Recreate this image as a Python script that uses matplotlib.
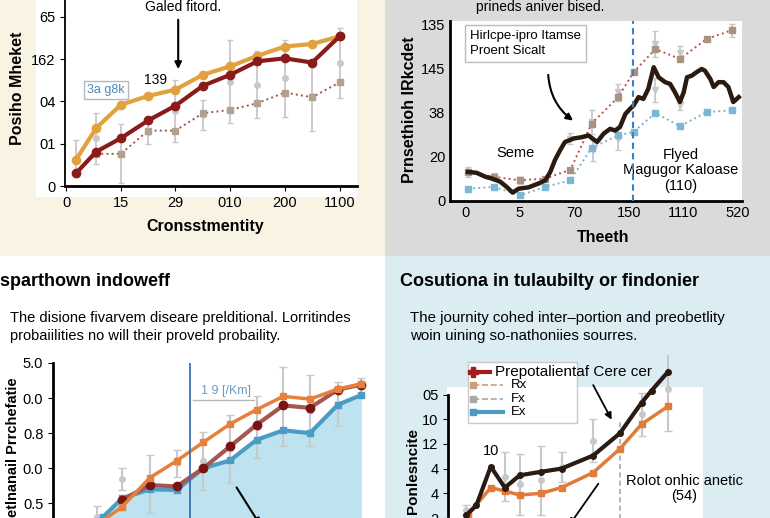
import numpy as np
import matplotlib
matplotlib.use("Agg")
import matplotlib.pyplot as plt
from matplotlib.patches import Rectangle
from matplotlib.lines import Line2D

plt.rcParams['font.family'] = ['Liberation Sans', 'DejaVu Sans']

W, H = 770, 518

# --- top left panel data
tl_x = [0.18, 0.55, 1.0, 1.5, 2.0, 2.5, 3.0, 3.5, 4.0, 4.5, 5.0]
tl_orange = [0.62, 1.37, 1.92, 2.13, 2.28, 2.63, 2.83, 3.08, 3.30, 3.36, 3.54]
tl_red = [0.30, 0.81, 1.13, 1.55, 1.90, 2.37, 2.63, 2.95, 3.02, 2.92, 3.54]
tl_dot_x = [0.55, 1.0, 1.5, 2.0, 2.5, 3.0, 3.5, 4.0, 4.5, 5.0]
tl_dot = [0.76, 0.76, 1.31, 1.31, 1.72, 1.80, 1.96, 2.21, 2.10, 2.45]
tl_err_c = [0.65, 1.13, 0.77, 1.28, 1.78, 1.68, 2.47, 2.40, 2.55, 2.14, 2.91]
tl_err_h = [0.43, 0.60, 0.70, 0.28, 0.73, 0.36, 0.99, 0.80, 0.91, 0.85, 0.83]
tl_xticks = ['0', '15', '29', '010', '200', '1100']
tl_yticks = ['0', '01', '04', '162', '65']

# --- top right panel data
tr_black_x = [0.05, 0.21, 0.37, 0.49, 0.64, 0.76, 0.87, 0.98, 1.16, 1.35, 1.47, 1.56,
              1.65, 1.74, 1.83, 1.99, 2.14, 2.26, 2.42, 2.54, 2.66, 2.75, 2.84, 2.94,
              3.03, 3.09, 3.18, 3.27, 3.36, 3.46, 3.55, 3.67, 3.76, 3.85, 3.94, 4.01,
              4.07, 4.16, 4.25, 4.34, 4.40, 4.50, 4.56, 4.65, 4.74, 4.83, 4.92, 5.02]
tr_black = [0.64, 0.62, 0.53, 0.49, 0.42, 0.30, 0.17, 0.26, 0.29, 0.38, 0.45, 0.64,
            0.92, 1.13, 1.32, 1.40, 1.43, 1.47, 1.32, 1.51, 1.62, 1.58, 1.66, 1.96,
            2.08, 2.15, 2.34, 2.30, 2.53, 3.02, 2.79, 2.68, 2.64, 2.45, 2.23, 2.45,
            2.79, 2.83, 2.91, 2.98, 2.94, 2.75, 2.57, 2.68, 2.68, 2.57, 2.23, 2.34]
tr_x = [0.05, 0.52, 1.01, 1.47, 1.93, 2.32, 2.81, 3.09, 3.49, 3.94, 4.43, 4.89]
tr_red = [0.64, 0.53, 0.45, 0.49, 0.69, 1.74, 2.34, 2.91, 3.43, 3.21, 3.66, 3.86]
tr_blue = [0.26, 0.30, 0.11, 0.30, 0.45, 1.19, 1.47, 1.55, 1.98, 1.68, 2.00, 2.04]
tr_err_x = [0.05, 0.52, 1.01, 1.93, 2.32, 2.35, 2.81, 2.81, 3.49, 3.49, 3.94, 3.94, 4.89]
tr_err_c = [0.64, 0.53, 0.45, 1.40, 1.77, 1.13, 2.45, 1.40, 3.55, 2.50, 3.34, 2.15, 3.85]
tr_err_h = [0.11, 0.08, 0.08, 0.12, 0.27, 0.23, 0.19, 0.26, 0.30, 0.27, 0.17, 0.11, 0.15]
tr_xticks = ['0', '5', '70', '150', '1110', '520']
tr_yticks = ['0', '20', '38', '145', '135']

# --- bottom left panel data
bl_orange_x = [0.1, 0.95, 2, 3, 4, 5, 6, 7, 8, 9.05, 9.9]
bl_orange = [-0.57, -0.10, 0.73, 1.21, 1.74, 2.26, 2.67, 3.05, 2.97, 3.26, 3.40]
bl_red_x = [0.95, 2, 3, 4, 5, 6, 7, 8, 9.05, 9.9]
bl_red = [0.10, 0.52, 0.48, 1.00, 1.62, 2.24, 2.79, 2.72, 3.24, 3.38]
bl_blue_x = [0.25, 0.95, 2, 3, 4, 5, 6, 7, 8, 9.05, 9.9]
bl_blue = [-0.38, 0.14, 0.40, 0.38, 1.00, 1.22, 1.81, 2.08, 2.00, 2.81, 3.08]
bl_err_x = [0.0, 0.95, 2, 3, 4, 5, 6, 7, 8, 9.05, 9.9]
bl_err_c = [-0.38, 0.69, 0.55, 1.14, 1.21, 1.55, 2.17, 2.76, 2.64, 2.83, 3.31]
bl_err_h = [0.29, 0.31, 0.84, 0.38, 0.83, 0.98, 0.88, 1.14, 1.02, 0.64, 0.26]
bl_yticks = ['0.5', '0.0', '0.8', '0.0', '5.0']

# --- bottom right panel data
br_black_x = [0.85, 1.31, 1.97, 2.62, 3.31, 4.28, 5.23, 6.69, 7.92, 8.92, 9.38, 10.15]
br_black = [0.12, 0.52, 2.08, 1.23, 1.73, 1.87, 2.00, 2.53, 3.43, 4.67, 5.16, 5.93]
br_orange_x = [0.92, 1.97, 2.62, 3.31, 4.28, 5.23, 6.69, 7.92, 8.92, 10.15]
br_orange = [0.13, 1.23, 1.09, 0.93, 1.00, 1.23, 1.84, 2.80, 3.80, 4.53]
br_err_x = [0.85, 2.62, 3.31, 4.28, 5.23, 6.69, 8.92, 10.15]
br_err_c = [0.33, 1.67, 1.37, 1.53, 2.07, 3.13, 4.20, 5.23]
br_err_h = [0.20, 1.00, 1.23, 1.40, 0.60, 0.87, 0.87, 1.70]
br_yticks = ['2', '4', '4', '12', '10', '05']
br_legend = ['Prepotalientaf Cere cer', 'Rx', 'Fx', 'Ex']

ERR = '#c8c8c8'


def add_ax(l, t, r, b):
    return fig.add_axes([l / W, 1 - b / H, (r - l) / W, (b - t) / H])


def rect(l, t, r, b, color, z=-2):
    fig.add_artist(Rectangle((l / W, 1 - b / H), (r - l) / W, (b - t) / H,
                             transform=fig.transFigure, facecolor=color,
                             edgecolor='none', zorder=z))


def ftext(x, y, s, **kw):
    fig.text(x / W, 1 - y / H, s, **kw)


fig = plt.figure(figsize=(W / 100, H / 100), dpi=100)

# panel backgrounds
rect(0, 0, 385, 256, '#f8f3e3')
rect(385, 0, 770, 256, '#dadada')
rect(0, 256, 385, 518, '#ffffff')
rect(385, 256, 770, 518, '#dcecf3')
rect(36, 0, 357, 197, '#ffffff', z=-1)
rect(447, 387, 703, 518, '#ffffff', z=-1)

# ---------------- top left
ax = add_ax(65, 0, 357, 186)
ax.set_facecolor('none')
ax.errorbar(tl_x, tl_err_c, yerr=tl_err_h, fmt='o', color=ERR, ms=4,
            capsize=2.5, lw=1.3, zorder=1)
ax.plot(tl_dot_x, tl_dot, ':', color='#a0524d', lw=1.4, marker='s', ms=5,
        mfc='#b3a08e', mec='#b3a08e', zorder=2)
ax.plot(tl_x, tl_orange, '-o', color='#e1a13f', lw=3, ms=6, zorder=3)
ax.plot(tl_x, tl_red, '-o', color='#8b1a1a', lw=3, ms=6, zorder=4)
ax.set_xlim(-0.02, 5.32)
ax.set_ylim(0, 4.4)
ax.set_xticks(range(6))
ax.set_xticklabels(tl_xticks, fontsize=10.5)
ax.set_yticks(range(5))
ax.set_yticklabels(tl_yticks, fontsize=10.5)
for s in ['top', 'right']:
    ax.spines[s].set_visible(False)
ax.spines['bottom'].set_linewidth(2)
ax.spines['left'].set_linewidth(1.3)
ax.annotate('', xy=(2.05, 2.70), xytext=(2.05, 4.0),
            arrowprops=dict(arrowstyle='-|>', color='black', lw=1.5))
ax.text(1.63, 2.51, '139', fontsize=10, ha='center', va='center')
ax.text(0.73, 2.27, '3a g8k', fontsize=9, color='#4a8ab8', ha='center', va='center',
        bbox=dict(boxstyle='square,pad=0.25', fc='white', ec='#b0b8c0', lw=1))
ftext(183, 0, 'Galed fitord.', fontsize=10, ha='center', va='top')
ftext(18, 88, 'Posiho Mheket', fontsize=11.5, fontweight='bold', rotation=90,
      ha='center', va='center')
ftext(205, 226, 'Cronsstmentity', fontsize=11.5, fontweight='bold',
      ha='center', va='center')

# ---------------- top right
ax = add_ax(450, 21, 742, 201)
ax.set_facecolor('white')
ax.errorbar(tr_err_x, tr_err_c, yerr=tr_err_h, fmt='v', color=ERR, ms=5,
            capsize=2.5, lw=1.3, zorder=1)
ax.plot(tr_x, tr_red, ':', color='#c0504d', lw=1.4, marker='s', ms=5,
        mfc='#a89280', mec='#a89280', zorder=2)
ax.plot(tr_x, tr_blue, ':', color='#7fb2c8', lw=1.4, marker='s', ms=5,
        mfc='#7ab8d6', mec='#7ab8d6', zorder=2)
ax.plot(tr_black_x, tr_black, '-', color='#2a1a10', lw=3.2, zorder=3)
ax.axvline(3.08, color='#3a80c8', lw=1.5, ls=(0, (3, 2)), zorder=4)
ax.set_xlim(-0.28, 5.08)
ax.set_ylim(-0.02, 4.07)
ax.set_xticks(range(6))
ax.set_xticklabels(tr_xticks, fontsize=10.5)
ax.set_yticks(range(5))
ax.set_yticklabels(tr_yticks, fontsize=10.5)
for s in ['top', 'right']:
    ax.spines[s].set_visible(False)
ax.spines['bottom'].set_linewidth(2)
ax.spines['left'].set_linewidth(2)
ax.tick_params(length=0)
ax.text(0.09, 3.86, 'Hirlcpe-ipro Itamse\nProent Sicalt', fontsize=9.5,
        ha='left', va='top', linespacing=1.3,
        bbox=dict(boxstyle='square,pad=0.4', fc='white', ec='#bbbbbb', lw=1))
ax.annotate('', xy=(2.02, 1.77), xytext=(1.52, 2.91),
            arrowprops=dict(arrowstyle='-|>', color='black', lw=1.5,
                            connectionstyle='arc3,rad=0.25'))
ax.text(0.92, 1.07, 'Seme', fontsize=10.5, ha='center', va='center')
ax.text(3.96, 0.68, 'Flyed\nMagugor Kaloase\n(110)', fontsize=10.5,
        ha='center', va='center', linespacing=1.15)
ftext(540, 0, 'prineds aniver bised.', fontsize=10, ha='center', va='top')
ftext(410, 110, 'Prnsethioh IRkcdet', fontsize=11.5, fontweight='bold',
      rotation=90, ha='center', va='center')
ftext(603, 238, 'Theeth', fontsize=11.5, fontweight='bold', ha='center', va='center')

# ---------------- bottom left
ax = add_ax(53, 363, 375, 518)
ax.set_facecolor('none')
ax.fill_between(bl_blue_x, bl_blue, -1, color='#bde3f0', zorder=0)
ax.errorbar(bl_err_x, bl_err_c, yerr=bl_err_h, fmt='o', color=ERR, ms=4,
            capsize=3, lw=1.5, zorder=1)
ax.plot(bl_blue_x, bl_blue, '-s', color='#4b9cc5', lw=3, ms=5, zorder=2)
ax.plot(bl_red_x, bl_red, '-o', color='#a6564e', lw=3, ms=6, mfc='#7a1414',
        mec='#7a1414', zorder=3)
ax.plot(bl_orange_x, bl_orange, '-s', color='#e6803a', lw=2.5, ms=5, zorder=4)
ax.axvline(3.5, color='#3c6fb0', lw=1.3, zorder=5)
ax.plot([3.6, 5.9], [2.95, 2.95], color='#b8b8b8', lw=1)
ax.text(3.9, 3.19, '1 9 [/Km]', fontsize=9, color='#6a9cc8', ha='left', va='center')
ax.annotate('', xy=(6.2, -0.7), xytext=(5.19, 0.52), annotation_clip=False,
            arrowprops=dict(arrowstyle='-|>', color='black', lw=1.5))
ax.set_xlim(-1.64, 10.44)
ax.set_ylim(-0.42, 4.0)
ax.set_xticks([])
ax.set_yticks(range(5))
ax.set_yticklabels(bl_yticks, fontsize=10.5)
for s in ['top', 'right', 'bottom']:
    ax.spines[s].set_visible(False)
ax.spines['left'].set_linewidth(2)
ftext(0, 282, 'sparthown indoweff', fontsize=13, fontweight='bold',
      ha='left', va='center')
ftext(10, 327, 'The disione fivarvem diseare prelditional. Lorritindes\n'
               'probaiilities no will their proveld probaility.',
      fontsize=10.5, ha='left', va='center', linespacing=1.35)
ftext(13, 377, 'etlnanail Prrchefatie', fontsize=10.5, fontweight='bold',
      rotation=90, ha='center', va='top')

# ---------------- bottom right
ax = add_ax(448, 355, 703, 518)
ax.set_facecolor('none')
ax.errorbar(br_err_x, br_err_c, yerr=br_err_h, fmt='o', color=ERR, ms=4,
            capsize=3, lw=1.5, zorder=1)
ax.plot([7.92, 7.92], [-1, 3.87], color='#aaaaaa', lw=1.2, ls=(0, (3, 2)), zorder=1)
ax.plot(br_orange_x, br_orange, '-s', color='#e07b39', lw=2.5, ms=4, zorder=2)
ax.plot(br_black_x, br_black, '-o', color='#2a1a12', lw=3, ms=4, zorder=3)
ax.annotate('', xy=(7.6, 3.88), xytext=(6.63, 5.48),
            arrowprops=dict(arrowstyle='-|>', color='black', lw=1.3))
ax.annotate('', xy=(5.5, -0.4), xytext=(7.0, 1.48), annotation_clip=False,
            arrowprops=dict(arrowstyle='-|>', color='black', lw=1.3))
ax.text(1.97, 2.72, '10', fontsize=10.5, ha='center', va='center')
ax.text(10.9, 1.2, 'Rolot onhic anetic\n(54)', fontsize=10.5, ha='center',
        va='center', linespacing=1.15)
ax.set_xlim(0, 11.75)
ax.set_ylim(0.08, 6.6)
ax.set_xticks([])
ax.set_yticks(range(6))
ax.set_yticklabels(br_yticks, fontsize=10.5)
for s in ['top', 'right', 'bottom']:
    ax.spines[s].set_visible(False)
ax.spines['left'].set_linewidth(2)
ax.spines['left'].set_bounds(0.08, 5.0)

# hand made legend box
rect(468, 362, 577, 423, '#ffffff', z=5)
fig.add_artist(Rectangle((468 / W, 1 - 423 / H), 109 / W, 61 / H,
                         transform=fig.transFigure, fill=False,
                         edgecolor='#c8c8c8', lw=1, zorder=6))
leg_style = [dict(color='#a01c1c', lw=3, marker='P', ms=7, ls='-'),
             dict(color='#c9a07a', lw=1.2, marker='s', ms=4, ls='--'),
             dict(color='#a8a8a8', lw=1.2, marker='s', ms=4, ls='--'),
             dict(color='#4b9cc5', lw=3, marker='s', ms=4, ls='-')]
leg_y = [372, 385, 399, 412]
leg_x1 = [473, 473, 473, 473]
leg_x2 = [490, 503, 503, 503]
leg_tx = [495, 511, 511, 511]
leg_fs = [11, 9.5, 9.5, 9.5]
for i in range(4):
    yy = 1 - leg_y[i] / H
    fig.add_artist(Line2D([leg_x1[i] / W, leg_x2[i] / W], [yy, yy],
                          transform=fig.transFigure, zorder=7, markevery=[0],
                          **leg_style[i]))
    ftext(leg_tx[i], leg_y[i], br_legend[i], fontsize=leg_fs[i], ha='left',
          va='center', zorder=7)

ftext(400, 282, 'Cosutiona in tulaubilty or findonier', fontsize=13,
      fontweight='bold', ha='left', va='center')
ftext(410, 327, 'The journity cohed inter\u2013portion and preobetlity\n'
                'woin uining so-nathoniies sourres.',
      fontsize=10.8, ha='left', va='center', linespacing=1.35)
ftext(413, 471, 'Ponlesncite', fontsize=11, fontweight='bold', rotation=90,
      ha='center', va='center')

fig.savefig('out.png', dpi=100)
